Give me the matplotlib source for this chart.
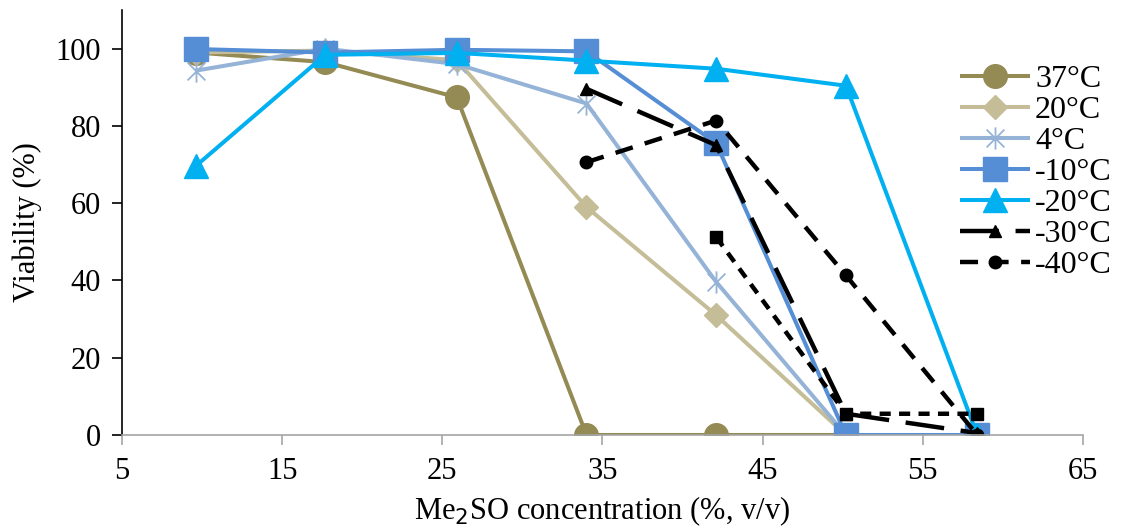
import numpy as np
import matplotlib
matplotlib.use("Agg")
import matplotlib.pyplot as plt
from matplotlib.path import Path

plt.rcParams["font.family"] = ["Liberation Serif", "DejaVu Serif"]
plt.rcParams["lines.scale_dashes"] = False

# Me2SO concentration (%, v/v) and viability (%) per storage temperature
conc = [9.6, 17.7, 25.9, 34.0, 42.1, 50.2, 58.4]
v_37 = [99.0, 96.5, 87.4, 0.0, 0.0, 0.0]
v_20 = [99.0, 99.5, 97.0, 59.0, 31.0, 0.0]
v_4 = [94.3, 100.0, 96.0, 85.8, 39.6, 0.0]
v_m10 = [99.9, 99.0, 99.7, 99.3, 75.5, 0.0, 0.0]
v_m20 = [69.6, 98.4, 98.9, 96.9, 94.8, 90.4, 0.0]
v_m30 = [89.6, 75.0, 5.5, 0.5]      # from 34 %
v_m40 = [70.6, 81.4, 41.3, 0.0]     # from 34 %
v_sq = [51.2, 5.5, 5.5]             # from 42 %, not in legend

labels = ["37°C", "20°C", "4°C", "-10°C", "-20°C", "-30°C", "-40°C"]

# Excel-like "star": an X with a vertical bar through it
star = Path([(-1, -1), (1, 1), (-1, 1), (1, -1), (0, -1.25), (0, 1.25)],
            [Path.MOVETO, Path.LINETO, Path.MOVETO, Path.LINETO,
             Path.MOVETO, Path.LINETO])

fig = plt.figure(figsize=(11.25, 5.32), dpi=100)
ax = fig.add_axes([122 / 1125, 97 / 532, 961 / 1125, 425 / 532])

lw = 2.9
h = []
h += ax.plot(conc[:6], v_37, color="#948A54", lw=lw, marker="o", ms=17,
             mec="#948A54", label=labels[0])
h += ax.plot(conc[:6], v_20, color="#C4BD97", lw=lw, marker="D", ms=12,
             mec="#C4BD97", label=labels[1])
h += ax.plot(conc[:6], v_4, color="#95B3D7", lw=lw, marker=star, ms=16,
             mec="#95B3D7", mew=1.3, label=labels[2])
h += ax.plot(conc, v_m10, color="#558ED5", lw=lw, marker="s", ms=17,
             mec="#558ED5", label=labels[3])
h += ax.plot(conc, v_m20, color="#00B0F0", lw=lw, marker="^", ms=17,
             mec="#00B0F0", label=labels[4])
h += ax.plot(conc[3:], v_m30, color="black", lw=3.2, dashes=(28, 12),
             marker="^", ms=9, label=labels[5])
h += ax.plot(conc[3:], v_m40, color="black", lw=3.2, dashes=(13, 9),
             marker="o", ms=9, label=labels[6])
ax.plot(conc[4:], v_sq, color="black", lw=3.2, dashes=(8, 6),
        marker="s", ms=9)

for ln in ax.lines:
    ln.set_solid_capstyle("butt")
    ln.set_dash_capstyle("butt")

ax.set_xlim(5, 65)
ax.set_ylim(0, 110)
ax.set_xticks(np.arange(5, 66, 10))
ax.set_yticks(np.arange(0, 101, 20))

for s in ("top", "right"):
    ax.spines[s].set_visible(False)
ax.spines["left"].set_color("black")
ax.spines["left"].set_linewidth(1.2)
ax.spines["bottom"].set_color("#A6A6A6")
ax.spines["bottom"].set_linewidth(1.2)
ax.tick_params(axis="y", direction="out", length=7, width=1.2, color="black",
               labelsize=22, pad=8)
ax.tick_params(axis="x", direction="out", length=7, width=1.2, color="#A6A6A6",
               labelsize=22, pad=9)

ax.set_ylabel("Viability (%)", fontsize=22, labelpad=10)
ax.set_xlabel("Me$_2$SO concentration (%, v/v)", fontsize=22, labelpad=6)

fig.legend(handles=h, loc="upper left", bbox_to_anchor=(960 / 1125, 1 - 65 / 532),
           frameon=False, fontsize=23, handlelength=2.2, handletextpad=0.15,
           labelspacing=0.05, borderpad=0, borderaxespad=0, numpoints=1)

fig.savefig("out.png", dpi=100)
